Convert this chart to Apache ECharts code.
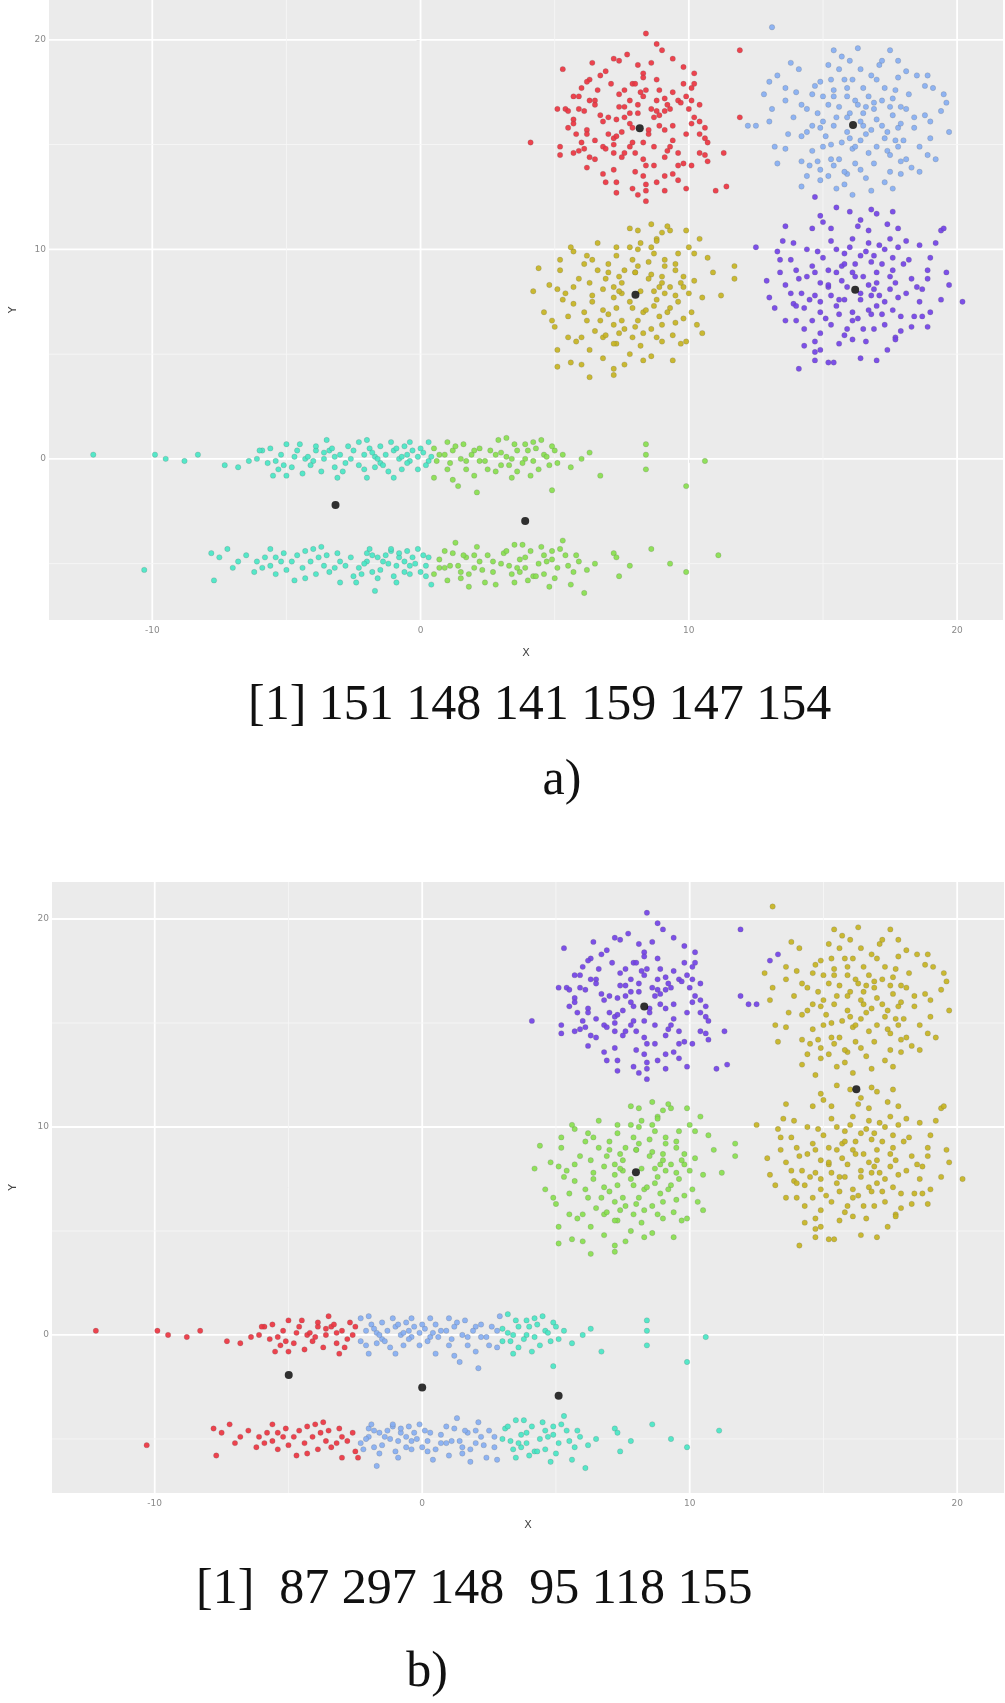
<!DOCTYPE html>
<html><head><meta charset="utf-8">
<script src="https://cdn.jsdelivr.net/npm/echarts@6/dist/echarts.min.js"></script>
<style>html,body{margin:0;padding:0;background:#fff}#c{width:1005px;height:1703px}</style>
</head><body><div id="c"></div>
<script>
// ---------- data ----------
const ptsTL = [[8.4,20.3],[8.8,19.8],[11.9,19.5],[9.4,19.1],[7.2,19.1],[7.4,19.0],[6.4,18.9],[5.3,18.6],[6.9,18.5],[8.3,18.4],[8.3,18.2],[9.8,18.7],[10.2,18.4],[8.8,18.1],[6.3,18.1],[6.2,18.0],[6.0,17.7],[7.9,17.9],[9.8,17.9],[10.1,17.7],[7.6,17.6],[7.4,17.4],[8.2,17.5],[8.4,17.6],[8.3,17.3],[5.7,17.3],[6.3,17.1],[6.5,17.1],[7.8,17.1],[8.8,17.1],[9.1,17.2],[9.4,17.5],[9.6,17.1],[9.7,17.0],[10.1,17.1],[10.4,16.9],[5.1,16.7],[5.4,16.7],[5.5,16.6],[5.9,16.7],[6.1,16.6],[7.4,16.8],[7.6,16.8],[8.1,16.9],[8.6,16.7],[8.8,16.6],[9.1,16.6],[9.3,16.7],[10.0,16.7],[7.8,16.5],[8.1,16.5],[8.9,16.4],[8.7,16.3],[10.2,16.3],[7.0,16.3],[5.7,16.2],[5.7,16.0],[6.2,15.7],[6.2,15.5],[7.8,16.0],[7.9,15.8],[8.5,15.7],[8.5,15.5],[9.4,15.9],[11.9,16.3],[5.8,15.5],[9.9,15.5],[10.4,15.5],[10.6,15.3],[10.7,15.1],[4.1,15.1],[5.2,14.9],[5.2,14.5],[5.7,14.6],[5.9,14.7],[6.1,14.8],[6.3,14.4],[6.5,14.3],[6.8,14.9],[6.9,14.8],[7.2,15.3],[7.3,15.4],[7.2,15.0],[7.2,14.6],[7.5,14.4],[7.6,14.6],[7.8,14.9],[7.9,15.1],[8.3,15.1],[8.3,14.3],[8.4,14.0],[8.7,14.0],[9.1,14.4],[9.2,14.7],[9.3,14.9],[9.6,14.6],[9.8,14.1],[10.1,14.0],[10.4,14.6],[10.6,14.5],[11.3,14.6],[7.2,13.8],[8.0,13.7],[8.3,13.5],[9.1,13.5],[9.4,13.6],[9.6,14.0],[6.9,13.2],[7.9,12.9],[8.4,13.1],[8.8,13.2],[9.1,12.8],[7.3,12.7],[8.1,12.6],[8.4,12.8],[11.4,13.0],[11.0,12.8],[7.0,15.5],[7.3,16.2],[6.5,15.2],[6.8,16.1],[9.1,15.7],[10.1,16.0],[8.1,18.8],[6.7,16.4],[7.6,16.3],[8.9,15.9],[9.2,16.9],[7.1,17.9],[8.6,18.9],[6.6,17.6],[9.9,17.3],[10.4,16.1],[6.0,15.1],[6.8,13.6],[9.6,13.3],[8.0,14.6],[8.7,14.9],[7.5,15.6],[9.4,15.2],[5.5,15.8],[6.5,16.9],[10.7,14.2],[8.0,17.9],[8.9,17.6],[7.3,13.2],[9.9,12.9],[6.2,13.9],[10.2,17.9],[5.9,17.3],[8.4,12.3],[9.0,19.5],[7.7,19.3],[6.7,18.3],[10.6,15.8]];
const ptsEdge = [[13.0,18.0],[13.3,18.3],[12.2,15.9],[12.5,15.9]];
const ptsTR = [[13.1,20.6],[15.4,19.5],[17.5,19.5],[13.6,17.7],[13.0,16.1],[13.1,16.7],[13.2,14.9],[13.6,14.8],[15.6,18.6],[16.4,18.6],[18.1,18.5],[18.5,18.3],[18.8,17.8],[19.1,17.7],[19.5,17.4],[19.4,16.6],[14.9,18.0],[15.3,18.1],[15.8,18.1],[16.5,17.7],[17.0,18.1],[17.3,17.7],[17.7,17.6],[17.8,18.2],[14.6,17.4],[15.0,17.3],[15.4,17.3],[15.9,17.3],[16.2,17.1],[16.7,17.3],[17.2,17.1],[17.5,16.8],[18.1,16.7],[18.4,16.3],[14.4,16.7],[14.8,16.5],[15.2,16.9],[15.5,16.3],[16.0,16.5],[16.5,16.5],[16.9,16.7],[17.6,16.4],[17.9,16.8],[14.2,15.4],[14.4,15.6],[14.9,15.8],[15.4,15.9],[15.9,15.6],[16.5,15.9],[16.8,15.7],[17.2,15.9],[17.4,15.6],[17.8,15.8],[18.0,15.2],[14.6,14.7],[15.0,14.9],[15.3,14.3],[15.7,15.1],[16.1,14.8],[16.4,15.2],[16.7,14.6],[17.0,14.9],[17.4,14.7],[17.8,14.9],[18.1,14.3],[18.9,14.5],[19.2,14.3],[14.9,13.8],[15.4,14.0],[15.9,13.6],[16.2,14.1],[16.9,14.1],[17.5,13.7],[17.9,13.6],[15.2,13.5],[15.8,13.1],[15.0,16.1],[15.6,16.8],[16.4,16.1],[16.9,17.0],[17.3,15.3],[16.0,15.3],[15.3,15.0],[14.6,15.9],[14.2,16.9],[15.9,17.7],[16.8,18.3],[17.6,17.2],[18.4,15.8],[18.6,14.9],[17.9,14.2],[16.4,13.8],[15.6,14.3],[14.2,14.2],[13.7,15.5],[13.9,16.3],[15.2,18.8],[16.0,19.0],[17.1,18.8],[18.2,17.4],[19.0,16.1],[14.7,17.8],[13.6,17.1],[16.6,15.5],[15.9,16.3],[17.0,16.2],[16.2,14.9],[14.9,13.3],[17.3,13.2],[18.6,13.7],[15.5,12.9],[16.8,12.8],[19.7,15.6],[16.3,19.6],[14.1,18.6],[12.8,17.4],[17.8,19.0],[18.9,18.3],[14.8,14.2],[16.6,16.8],[15.4,17.6],[17.9,16.0],[16.1,18.1],[13.3,14.1],[17.5,14.5],[15.8,13.7],[14.4,13.5],[14.0,17.5],[15.1,15.4],[16.3,16.9],[17.7,15.2],[18.3,13.9],[16.6,13.4],[14.5,14.0],[15.7,19.2],[17.2,19.0],[19.0,15.3],[13.8,18.9],[16.1,12.6],[18.8,16.4],[14.2,13.0],[17.6,12.9],[19.6,17.0]];
const ptsMR = [[15.5,12.0],[16.0,11.8],[14.9,11.6],[16.8,11.9],[17.0,11.7],[17.6,11.8],[16.4,11.4],[13.6,11.1],[19.4,10.9],[16.1,10.5],[16.7,10.9],[17.5,10.5],[18.1,10.4],[13.9,10.3],[17.1,10.2],[12.5,10.1],[14.8,9.9],[15.5,10.0],[15.8,9.8],[16.4,9.7],[16.8,9.4],[17.2,9.3],[17.6,9.6],[19.0,9.6],[13.4,9.5],[14.6,9.2],[15.2,9.0],[15.7,9.2],[16.1,8.9],[16.5,8.7],[17.0,8.9],[17.6,9.0],[18.9,9.0],[19.6,8.9],[14.1,8.6],[14.4,8.7],[14.9,8.4],[15.2,8.2],[15.7,8.5],[16.7,8.3],[17.0,8.4],[17.5,8.1],[18.3,8.6],[18.5,8.2],[13.6,8.3],[13.8,7.9],[14.2,7.9],[14.7,7.8],[15.3,7.8],[15.8,7.6],[16.4,7.6],[16.8,7.8],[17.3,7.5],[17.8,7.7],[18.1,7.9],[18.7,8.1],[13.0,7.7],[19.4,7.6],[20.2,7.5],[13.9,7.4],[14.3,7.2],[14.9,7.0],[15.5,7.3],[16.1,7.0],[16.7,7.1],[17.2,6.9],[17.6,7.1],[13.6,6.6],[14.0,6.6],[14.6,6.6],[15.3,6.4],[15.9,6.2],[16.5,6.2],[16.9,6.2],[17.3,6.4],[17.9,6.8],[18.4,6.8],[18.7,6.8],[14.9,6.0],[15.8,5.9],[17.7,5.8],[14.1,4.3],[14.7,4.7],[14.7,5.1],[14.9,5.2],[14.7,5.6],[15.4,4.6],[16.1,5.7],[17.7,5.7],[14.7,12.5],[15.2,8.3],[15.9,8.2],[16.4,7.9],[16.9,8.1],[16.2,8.7],[15.6,7.6],[14.9,7.5],[17.0,7.3],[17.7,8.4],[18.0,9.3],[16.6,9.9],[15.3,10.4],[14.4,10.0],[13.4,8.9],[13.2,7.2],[14.3,6.2],[15.6,5.5],[16.6,5.6],[17.4,5.2],[18.3,6.3],[19.0,7.0],[19.7,8.3],[18.6,10.2],[17.8,11.0],[16.3,11.1],[14.6,11.0],[13.8,9.5],[15.8,9.3],[16.9,9.7],[17.3,10.0],[14.0,7.3],[15.1,6.7],[16.1,6.6],[17.9,6.1],[18.6,7.5],[15.5,8.9],[16.8,6.9],[13.5,10.4],[19.2,10.3],[14.7,8.9],[17.5,8.7],[16.0,10.1],[15.0,11.3],[12.9,8.5],[18.9,8.6],[16.4,4.8],[15.2,4.6],[17.0,4.7],[19.5,11.0],[14.3,5.4],[15.0,9.6],[16.2,9.3],[17.8,10.1],[14.0,9.0],[16.3,6.7],[15.6,6.9],[17.1,7.8],[18.2,9.5],[15.3,11.0],[16.7,10.3],[14.5,7.6],[18.9,6.3],[13.3,9.9],[17.4,11.2]];
const ptsML = [[9.2,11.1],[9.3,10.9],[9.0,10.8],[8.1,10.9],[8.8,10.5],[5.7,9.9],[7.8,10.1],[8.1,10.0],[8.6,10.1],[10.0,10.1],[10.2,9.8],[6.4,9.5],[6.1,9.3],[7.3,9.7],[8.5,9.4],[9.1,9.5],[9.5,9.3],[4.4,9.1],[5.2,9.0],[7.0,8.9],[7.4,8.7],[8.0,8.9],[8.6,8.8],[9.0,8.7],[9.8,8.7],[4.2,8.0],[5.1,8.1],[5.7,8.2],[6.3,8.4],[6.8,8.1],[7.2,8.2],[7.5,7.9],[8.7,8.0],[8.9,8.2],[9.1,7.9],[9.5,7.8],[9.8,8.2],[11.2,7.8],[11.7,9.2],[11.7,8.6],[5.3,7.6],[5.7,7.4],[6.4,7.5],[6.8,7.1],[7.3,7.2],[7.8,7.5],[8.3,7.0],[8.7,7.3],[9.3,7.2],[9.6,7.5],[10.1,7.0],[4.9,6.6],[6.2,6.6],[6.7,6.6],[7.2,6.4],[7.6,6.2],[8.1,6.6],[8.6,6.2],[9.0,6.4],[9.5,6.5],[10.5,6.0],[5.5,5.8],[6.0,5.8],[6.8,5.8],[7.4,6.0],[7.9,5.8],[8.8,5.8],[9.4,5.9],[5.1,5.2],[5.1,4.4],[5.6,4.6],[6.0,4.5],[6.3,3.9],[7.2,4.3],[7.2,4.0],[7.8,5.0],[7.3,5.5],[8.3,4.7],[9.7,5.5],[5.8,5.6],[7.5,8.4],[8.2,8.0],[8.8,7.6],[7.9,7.2],[8.5,8.6],[9.3,8.2],[9.5,9.0],[10.2,8.5],[10.5,7.7],[6.9,8.6],[6.6,9.0],[5.9,8.6],[5.4,7.9],[6.1,7.0],[7.0,6.9],[7.5,6.6],[8.0,6.3],[8.9,6.8],[9.8,6.7],[10.0,7.9],[9.6,9.8],[8.8,10.4],[8.2,10.3],[7.3,10.1],[6.6,10.3],[7.8,11.0],[8.6,11.2],[7.0,9.3],[7.9,9.5],[9.1,9.2],[5.2,9.5],[4.8,8.3],[5.0,6.3],[5.5,6.8],[6.5,6.1],[7.2,5.5],[8.2,5.4],[9.0,5.6],[9.9,5.6],[10.3,6.4],[10.9,8.9],[10.7,9.6],[6.3,5.2],[6.8,4.8],[8.6,4.9],[9.4,4.7],[7.6,4.5],[8.0,8.9],[7.2,7.7],[8.4,7.1],[9.2,7.0],[6.4,7.8],[9.7,8.4],[8.7,9.8],[6.2,9.7],[7.6,9.0],[5.6,10.1],[10.4,10.5],[9.9,10.9],[4.6,7.0],[8.3,6.0],[7.4,8.0],[9.0,8.4],[8.1,9.2],[6.9,5.9]];
// the two horizontal bands (y≈0 and y≈-5), cut into four x-segments
const segS1 = [[-12.2,0.2],[-9.9,0.2],[-9.5,0.0],[-8.8,-0.1],[-8.3,0.2],[-7.3,-0.3],[-6.8,-0.4],[-6.1,0.0],[-5.9,0.4],[-5.6,0.5],[-5.4,-0.1],[-5.3,-0.5],[-5.1,-0.3],[-5.0,-0.8],[-4.7,0.1],[-4.5,0.7],[-4.3,0.0],[-4.0,-0.1],[-3.9,0.4],[-3.6,0.0],[-3.5,0.9],[-3.4,0.4],[-3.2,0.1],[-3.2,-0.4],[-2.9,-0.6],[-2.6,0.0],[-5.7,-0.2],[-5.2,0.2],[-4.8,-0.4],[-4.6,0.4],[-4.1,-0.3],[-3.9,0.6],[-3.7,-0.6],[-3.3,0.5],[-3.0,0.2],[-2.8,-0.2],[-2.5,0.4],[-6.0,0.4],[-6.4,-0.1],[-5.5,-0.8],[-4.4,-0.7],[-3.6,0.3],[-2.7,0.6],[-3.1,-0.9],[-5.0,0.7],[-4.2,0.1],
  [-10.3,-5.3],[-7.8,-4.5],[-7.7,-5.8],[-7.5,-4.7],[-7.2,-4.3],[-6.8,-4.9],[-6.1,-4.9],[-5.8,-4.7],[-5.6,-5.1],[-5.4,-5.5],[-5.2,-4.9],[-5.1,-4.5],[-4.8,-4.9],[-4.3,-5.7],[-4.1,-4.9],[-4.0,-4.3],[-3.6,-5.1],[-3.5,-4.6],[-3.2,-5.2],[-3.0,-4.9],[-2.4,-5.9],[-5.9,-5.2],[-5.4,-4.7],[-5.0,-5.3],[-4.6,-4.6],[-4.4,-5.2],[-3.9,-5.5],[-3.8,-4.7],[-3.4,-5.4],[-3.1,-4.5],[-2.8,-5.1],[-2.6,-4.7],[-6.5,-4.6],[-6.2,-5.4],[-7.0,-5.2],[-5.6,-4.3],[-4.7,-5.8],[-3.0,-5.9],[-3.7,-4.2],[-2.5,-5.6],[-4.3,-4.4]];
const segS2 = [[-2.3,0.8],[-2.1,-0.5],[-2.0,-0.9],[-1.7,0.1],[-1.5,-0.2],[-1.1,0.8],[-1.0,0.4],[-0.8,0.0],[-0.7,-0.5],[-0.5,0.2],[-0.4,-0.1],[-0.1,0.1],[0.3,0.8],[0.3,-0.1],[-2.3,-0.3],[-2.1,0.2],[-1.9,0.5],[-1.7,-0.4],[-1.3,0.2],[-1.2,-0.6],[-0.9,0.5],[-0.7,0.1],[-0.5,-0.2],[-0.3,0.4],[-0.1,-0.5],[0.1,0.3],[0.2,-0.3],[-1.5,0.6],[-0.4,0.8],[-1.0,-0.9],[0.4,0.1],[-2.0,0.9],[-1.6,0.0],[0.0,0.5],[-1.8,0.3],[-0.6,0.6],[-1.4,-0.3],
  [-2.3,-5.2],[-2.0,-4.5],[-1.8,-5.4],[-1.6,-4.7],[-1.7,-6.3],[-1.4,-4.9],[-1.1,-4.4],[-0.9,-5.1],[-0.8,-4.7],[-0.6,-5.4],[-0.4,-5.1],[-0.3,-4.7],[0.0,-5.4],[0.3,-4.7],[-2.2,-5.5],[-2.0,-4.9],[-1.8,-4.6],[-1.5,-5.3],[-1.2,-5.0],[-1.0,-5.6],[-0.8,-4.5],[-0.6,-4.9],[-0.4,-5.5],[-0.2,-5.0],[0.1,-4.6],[0.2,-5.1],[-1.9,-4.3],[-0.1,-4.3],[0.4,-6.0],[-1.1,-4.3],[-0.9,-5.9],[-1.3,-4.6],[-0.5,-4.4],[-2.1,-5.0],[0.2,-5.6],[-1.6,-5.7]];
const segS3 = [[0.5,-0.9],[0.7,0.2],[1.0,-0.5],[1.2,0.4],[1.4,-1.3],[1.6,0.7],[1.7,-0.1],[2.0,0.4],[2.1,-1.6],[2.2,-0.1],[2.5,-0.5],[2.8,0.2],[0.5,0.5],[0.6,-0.1],[0.9,0.2],[1.1,-0.2],[1.3,0.6],[1.5,0.0],[1.7,-0.5],[1.9,0.2],[2.2,0.5],[2.4,-0.1],[2.6,0.4],[2.8,-0.6],[1.0,0.8],[2.0,-0.8],[2.9,0.9],[1.2,-1.0],
  [0.7,-5.2],[0.9,-4.4],[1.1,-5.1],[1.3,-4.0],[1.5,-5.4],[1.7,-4.7],[1.8,-6.1],[2.0,-5.2],[2.2,-4.9],[2.7,-4.9],[2.8,-6.0],[0.5,-5.5],[0.7,-4.8],[0.9,-5.2],[1.2,-4.5],[1.4,-5.1],[1.6,-4.6],[1.8,-5.5],[2.0,-4.6],[2.3,-5.3],[2.5,-4.6],[2.7,-5.4],[1.0,-5.8],[2.4,-5.9],[2.1,-4.2],[1.5,-5.7]];
const segS4 = [[3.0,-0.3],[3.2,1.0],[3.4,0.0],[3.6,0.4],[3.9,0.7],[3.9,0.0],[4.2,-0.1],[4.6,0.2],[4.8,-0.3],[4.9,-1.5],[5.0,0.4],[6.0,0.0],[6.3,0.3],[6.7,-0.8],[8.4,0.7],[8.4,0.2],[8.4,-0.5],[9.9,-1.3],[10.6,-0.1],[3.0,0.3],[3.3,-0.3],[3.5,0.7],[3.8,-0.2],[4.0,0.4],[4.3,0.5],[4.4,-0.5],[4.7,0.1],[4.9,0.6],[5.1,-0.2],[3.6,-0.6],[4.5,0.9],[4.1,-0.8],[3.2,0.1],[5.3,0.2],[5.6,-0.4],[4.2,0.8],[3.4,-0.9],
  [3.1,-4.5],[3.3,-5.1],[3.5,-4.1],[3.7,-5.4],[3.9,-4.7],[4.2,-5.6],[4.3,-5.6],[4.6,-4.6],[4.7,-4.9],[4.9,-4.4],[5.3,-3.9],[5.5,-5.1],[5.6,-6.0],[5.8,-4.6],[6.1,-6.4],[6.2,-5.3],[7.2,-4.5],[7.4,-5.6],[8.6,-4.3],[9.3,-5.0],[9.9,-5.4],[11.1,-4.6],[7.8,-5.1],[7.3,-4.7],[3.0,-5.0],[3.2,-4.4],[3.4,-5.5],[3.7,-4.8],[3.9,-5.2],[4.1,-4.4],[4.4,-5.0],[4.6,-5.5],[4.9,-4.8],[5.1,-5.2],[5.4,-4.6],[5.7,-5.4],[3.8,-4.1],[4.8,-6.1],[3.5,-5.9],[5.0,-5.7],[4.0,-5.8],[5.2,-4.3],[6.5,-5.0],[4.5,-4.2],[3.6,-5.2],[5.9,-4.9]];
// cluster centres
const centresA = [[8.17,15.78],[16.12,15.94],[8.01,7.83],[16.2,8.07],[-3.17,-2.2],[3.9,-2.96]];
const centresB = [[8.3,15.79],[16.23,11.81],[7.99,7.82],[-4.99,-1.92],[0.0,-2.53],[5.1,-2.92]];
// axis ticks
const xTicks = [-10, 0, 10, 20];
const yTicks = [0, 10, 20];
const xMinor = [-5, 5, 15];
const yMinor = [-5, 5, 15];
// caption texts
const captionA = '[1] 151 148 141 159 147 154';
const captionB = '[1]  87 297 148  95 118 155';
const labelA = 'a)';
const labelB = 'b)';

// ---------- chart ----------
const C = {red:'#EC3440', olive:'#C6B322', green:'#88DE4E', cyan:'#48E6C4', blue:'#86AEF2', purple:'#7242E6'};
const rangesA = {x:[-13.85, 21.71], y:[-7.69, 21.9]};
const rangesB = {x:[-13.84, 21.75], y:[-7.6, 21.78]};

function xAxis(gi, r, gap) {
  return {type:'value', gridIndex:gi, min:r[0], max:r[1], name:'X', nameLocation:'middle', nameGap:gap,
    nameTextStyle:{fontSize:11, color:'#444', fontFamily:'DejaVu Sans'},
    axisLine:{show:false}, splitLine:{show:false},
    axisTick:{show:true, length:4, lineStyle:{color:'#999'}, customValues:xTicks},
    axisLabel:{customValues:xTicks, fontSize:9, color:'#8a8a8a', margin:6, fontFamily:'DejaVu Sans'}};
}
function yAxis(gi, r, gap) {
  return {type:'value', gridIndex:gi, min:r[0], max:r[1], name:'Y', nameLocation:'middle', nameGap:gap, nameRotate:90,
    nameTextStyle:{fontSize:11, color:'#444', fontFamily:'DejaVu Sans'},
    axisLine:{show:false}, splitLine:{show:false},
    axisTick:{show:true, length:4, lineStyle:{color:'#999'}, customValues:yTicks},
    axisLabel:{customValues:yTicks, fontSize:9, color:'#8a8a8a', margin:3, fontFamily:'DejaVu Sans'}};
}
function lineData(xs, ys, r) {
  const d = [];
  xs.forEach(v => { d.push([v, r.y[0]], [v, r.y[1]], ['-','-']); });
  ys.forEach(v => { d.push([r.x[0], v], [r.x[1], v], ['-','-']); });
  return d;
}
function gl(idx, data, w, col) {
  return {type:'line', xAxisIndex:idx, yAxisIndex:idx, data, symbol:'none', connectNulls:false, silent:true,
    lineStyle:{color:col, width:w}, z:1, animation:false};
}
function sc(idx, data, color) {
  return {type:'scatter', xAxisIndex:idx, yAxisIndex:idx, data, symbolSize:5.4, silent:true, z:3, animation:false,
    itemStyle:{color, opacity:0.92, borderColor:'rgba(90,90,90,0.35)', borderWidth:0.6}};
}
function cen(idx, data) {
  return {type:'scatter', xAxisIndex:idx, yAxisIndex:idx, data, symbolSize:8, silent:true, z:4, animation:false,
    itemStyle:{color:'#000'}};
}

const chart = echarts.init(document.getElementById('c'), null, {renderer:'canvas'});
chart.setOption({
  backgroundColor:'#ffffff',
  animation:false,
  grid:[
    {left:43, top:0, width:960, height:620, show:true, backgroundColor:'#EBEBEB', borderWidth:0},
    {left:50, top:882, width:954, height:611, show:true, backgroundColor:'#EBEBEB', borderWidth:0}
  ],
  xAxis:[xAxis(0, rangesA.x, 28), xAxis(1, rangesB.x, 27)],
  yAxis:[yAxis(0, rangesA.y, 30), yAxis(1, rangesB.y, 33)],
  series:[
    gl(0, lineData(xTicks, yTicks, rangesA), 1.8, '#ffffff'),
    gl(0, lineData(xMinor, yMinor, rangesA), 0.9, '#f6f6f6'),
    sc(0, ptsTL, C.red),
    sc(0, ptsTR.concat(ptsEdge), C.blue),
    sc(0, ptsML, C.olive),
    sc(0, ptsMR, C.purple),
    sc(0, segS1.concat(segS2), C.cyan),
    sc(0, segS3.concat(segS4), C.green),
    cen(0, centresA),
    gl(1, lineData(xTicks, yTicks, rangesB), 1.8, '#ffffff'),
    gl(1, lineData(xMinor, yMinor, rangesB), 0.9, '#f6f6f6'),
    sc(1, ptsTL.concat(ptsEdge), C.purple),
    sc(1, ptsTR.concat(ptsMR), C.olive),
    sc(1, ptsML, C.green),
    sc(1, segS1, C.red),
    sc(1, segS2.concat(segS3), C.blue),
    sc(1, segS4, C.cyan),
    cen(1, centresB)
  ],
  graphic:[
    {type:'text', x:248, y:706, silent:true, style:{text:captionA, font:'50px "Liberation Serif"', fill:'#111', align:'left', verticalAlign:'middle'}},
    {type:'text', x:562, y:781, silent:true, style:{text:labelA, font:'50px "Liberation Serif"', fill:'#111', align:'center', verticalAlign:'middle'}},
    {type:'text', x:196, y:1590, silent:true, style:{text:captionB, font:'50px "Liberation Serif"', fill:'#111', align:'left', verticalAlign:'middle'}},
    {type:'text', x:427, y:1673, silent:true, style:{text:labelB, font:'50px "Liberation Serif"', fill:'#111', align:'center', verticalAlign:'middle'}}
  ]
});
</script></body></html>
